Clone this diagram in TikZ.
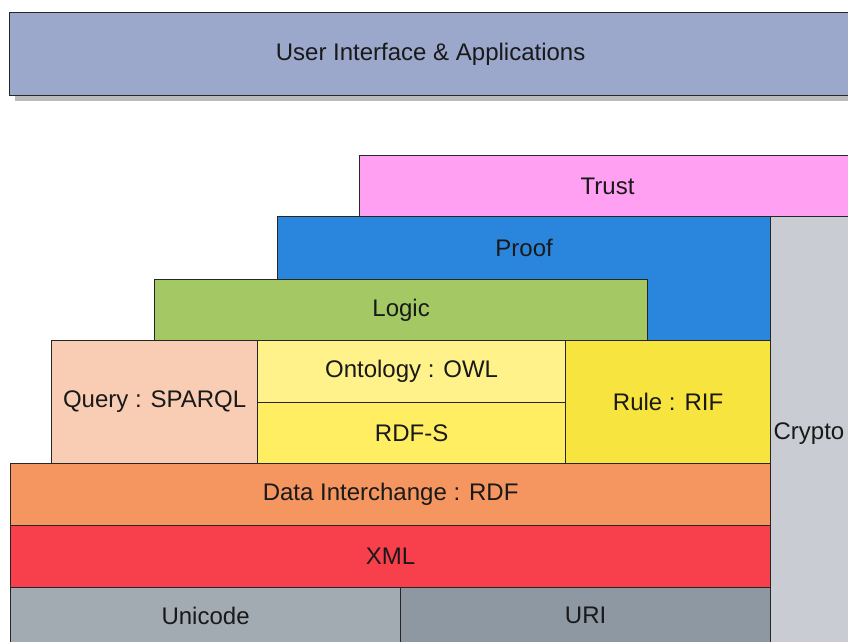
\documentclass[tikz,border=0pt]{standalone}
\usepackage{fontspec}
\setmainfont{Liberation Sans}
\usepackage{xcolor}
\usetikzlibrary{shadows}

\definecolor{uicol}{HTML}{9BA7CB}
\definecolor{trustcol}{HTML}{FFA0F2}
\definecolor{proofcol}{HTML}{2A86DC}
\definecolor{cryptocol}{HTML}{C9CDD3}
\definecolor{logiccol}{HTML}{A3C864}
\definecolor{querycol}{HTML}{F8CDB3}
\definecolor{owlcol}{HTML}{FFF28A}
\definecolor{rdfscol}{HTML}{FFEE62}
\definecolor{rulecol}{HTML}{F8E43E}
\definecolor{rdfcol}{HTML}{F59660}
\definecolor{xmlcol}{HTML}{F8404C}
\definecolor{unicodecol}{HTML}{A2AAB2}
\definecolor{uricol}{HTML}{8E98A2}

\begin{document}
\begin{tikzpicture}[x=1pt,y=-1pt,
		layer/.style={rectangle, draw=black!85, line width=1.2pt, anchor=north west,
			inner sep=0pt, text=black!90, font=\fontsize{24}{28}\selectfont}]
			
			%--- Khung ---
			\useasboundingbox (0,0) rectangle (848,642);
			\clip (0,0) rectangle (848,642);
			
			%--- Giao diện ---
			\node[layer, fill=uicol, minimum width=842pt, minimum height=83pt,
				drop shadow={shadow xshift=5pt, shadow yshift=-5pt, fill=black!45, opacity=.6}]
				(ui) at (9,12) {User Interface \& Applications};
			
			%--- Tầng trên ---
			\node[layer, fill=trustcol, minimum width=496pt, minimum height=61pt] (trust) at (359,155) {Trust};
			\node[layer, fill=proofcol, minimum width=493pt, text height=39.5pt, text depth=84.5pt] (proof) at (277,216) {Proof};
			\node[layer, fill=cryptocol, minimum height=434pt, inner xsep=3pt, text width=94pt, align=left] (crypto) at (770,216) {Crypto};
			\node[layer, fill=logiccol, minimum width=493pt, minimum height=61pt] (logic) at (154,279) {Logic};
			
			%--- Tầng giữa ---
			\node[layer, fill=querycol, minimum width=206pt, minimum height=123pt] (query) at (51,340) {Query : SPARQL};
			\node[layer, fill=owlcol, minimum width=308pt, minimum height=62pt] (owl) at (257,340) {Ontology : OWL};
			\node[layer, fill=rdfscol, minimum width=308pt, minimum height=61pt] (rdfs) at (257,402) {RDF-S};
			\node[layer, fill=rulecol, minimum width=205pt, minimum height=123pt] (rule) at (565,340) {Rule : RIF};
			
			%--- Tầng dưới ---
			\node[layer, fill=rdfcol, minimum width=760pt, minimum height=62pt] (rdf) at (10,463) {Data Interchange : RDF};
			\node[layer, fill=xmlcol, minimum width=760pt, minimum height=62pt] (xml) at (10,525) {XML};
			\node[layer, fill=unicodecol, minimum width=390pt, minimum height=56pt] (unicode) at (10,587) {Unicode};
			\node[layer, fill=uricol, minimum width=370pt, minimum height=56pt] (uri) at (400,587) {URI};
			
		\end{tikzpicture}
\end{document}
